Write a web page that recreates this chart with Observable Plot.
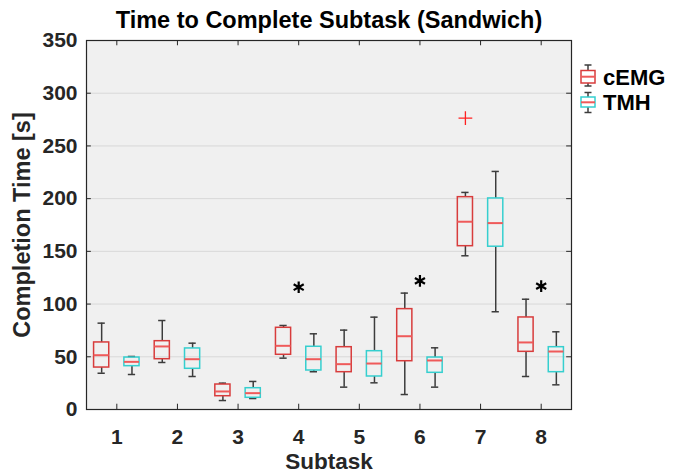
<!DOCTYPE html>
<html>
<head>
<meta charset="utf-8">
<script src="https://cdn.jsdelivr.net/npm/d3@7"></script>
<script src="https://cdn.jsdelivr.net/npm/@observablehq/plot@0.6"></script>
<style>
  body { margin: 0; background: #fff; }
  #wrap { position: relative; width: 681px; height: 474px; font-family: "Liberation Sans", Arial, sans-serif; }
  #title { position: absolute; left: 0; width: 658px; top: 7px; text-align: center; font-weight: bold; font-size: 23.5px; line-height: 26px; color: #000; }
  #legend { position: absolute; left: 576px; top: 60px; }
  #legend text { font-family: "Liberation Sans", Arial, sans-serif; font-weight: bold; font-size: 22px; fill: #000; }
</style>
</head>
<body>
<div id="wrap">
  <div id="title">Time to Complete Subtask (Sandwich)</div>
</div>
<script>
// ---- data ----
const subtasks = [1, 2, 3, 4, 5, 6, 7, 8];
const groups = ["cEMG", "TMH"];
const groupColors = ["#d83c3c", "#35cfcf"];

const cemgLow  = [34.4, 44.6,  8.5, 48.7, 21.2,  14.2, 145.8,  31.3];
const cemgQ1   = [39.8, 47.7, 12.6, 51.9, 35.4,  45.8, 154.9,  54.7];
const cemgMed  = [51.5, 59.8, 17.1, 60.4, 43.0,  69.5, 178.1,  63.6];
const cemgQ3   = [63.6, 64.8, 23.7, 77.5, 59.1,  95.2, 201.4,  87.3];
const cemgHigh = [81.9, 84.4, 25.0, 79.7, 75.3, 110.4, 205.9, 104.6];

const tmhLow  = [33.2, 31.3, 10.4, 35.8, 25.3, 21.2,  92.7, 23.4];
const tmhQ1   = [41.1, 38.6, 11.1, 37.0, 31.3, 34.8, 154.4, 35.4];
const tmhMed  = [45.2, 47.7, 15.5, 47.7, 43.6, 46.5, 176.8, 55.0];
const tmhQ3   = [49.3, 57.9, 20.2, 59.5, 55.3, 49.3, 200.2, 59.1];
const tmhHigh = [50.3, 62.9, 26.6, 71.8, 87.6, 58.5, 225.8, 73.7];

const outlierSubtask = [7];
const outlierGroup = ["cEMG"];
const outlierValue = [276.4];

const starSubtask = [4, 6, 8];
const starValue = [116, 122, 117];

const yTicks = [0, 50, 100, 150, 200, 250, 300, 350];
const gridValues = [50, 100, 150, 200, 250, 300];

// ---- build tables ----
const offset = {cEMG: -0.25, TMH: 0.25};
const boxHalf = 0.125, capHalf = 0.06;
const stats = {
  cEMG: [cemgLow, cemgQ1, cemgMed, cemgQ3, cemgHigh],
  TMH: [tmhLow, tmhQ1, tmhMed, tmhQ3, tmhHigh]
};
const rows = [];
for (const g of groups) {
  const [lo, q1, md, q3, hi] = stats[g];
  subtasks.forEach((s, i) => rows.push({
    subtask: s, group: g, pos: s + offset[g],
    low: lo[i], q1: q1[i], med: md[i], q3: q3[i], high: hi[i]
  }));
}
const outliers = outlierSubtask.map((s, i) => ({pos: s + offset[outlierGroup[i]], value: outlierValue[i], group: outlierGroup[i]}));
const stars = starSubtask.map((s, i) => ({subtask: s, value: starValue[i]}));

const axisColor = "#262626";
const whisker = "#3c3c3c";

const chart = Plot.plot({
  width: 681,
  height: 474,
  marginLeft: 86,
  marginRight: 110,
  marginTop: 40,
  marginBottom: 65,
  style: {fontFamily: '"Liberation Sans", Arial, sans-serif', fontWeight: "bold", fontSize: "21px", color: axisColor, background: "transparent"},
  x: {domain: [0.5, 8.5], axis: null},
  y: {domain: [0, 350], axis: null},
  color: {domain: groups, range: groupColors},
  marks: [
    Plot.frame({fill: "#f0f0f0", stroke: null}),
    Plot.ruleY(gridValues, {stroke: "#d8d8d8", strokeWidth: 1}),
    // whiskers
    Plot.ruleX(rows, {x: "pos", y1: "q3", y2: "high", stroke: whisker, strokeWidth: 1.5}),
    Plot.ruleX(rows, {x: "pos", y1: "low", y2: "q1", stroke: whisker, strokeWidth: 1.5}),
    Plot.ruleY(rows, {y: "high", x1: d => d.pos - capHalf, x2: d => d.pos + capHalf, stroke: whisker, strokeWidth: 1.5}),
    Plot.ruleY(rows, {y: "low", x1: d => d.pos - capHalf, x2: d => d.pos + capHalf, stroke: whisker, strokeWidth: 1.5}),
    // boxes
    Plot.rect(rows, {x1: d => d.pos - boxHalf, x2: d => d.pos + boxHalf, y1: "q1", y2: "q3", fill: "none", stroke: "group", strokeWidth: 1.5}),
    // medians
    Plot.ruleY(rows, {y: "med", x1: d => d.pos - boxHalf, x2: d => d.pos + boxHalf, stroke: "#ef5a5a", strokeWidth: 2}),
    // outliers
    Plot.dot(outliers, {x: "pos", y: "value", symbol: "plus", stroke: "#ff2020", r: 4.5, strokeWidth: 1.3}),
    // significance stars
    Plot.dot(stars, {x: "subtask", y: "value", symbol: "asterisk", stroke: "#000", r: 5.5, strokeWidth: 2.2}),
    // inward ticks
    Plot.ruleY(yTicks, {x1: 0.5, x2: 0.58, stroke: axisColor}),
    Plot.ruleY(yTicks, {x1: 8.42, x2: 8.5, stroke: axisColor}),
    Plot.ruleX(subtasks, {y1: 0, y2: 5, stroke: axisColor}),
    Plot.ruleX(subtasks, {y1: 345, y2: 350, stroke: axisColor}),
    Plot.frame({stroke: axisColor, strokeWidth: 1.2}),
    // axes
    Plot.axisY(yTicks, {tickSize: 0, tickPadding: 9, label: null, fontSize: 21, fontWeight: "bold", fill: axisColor}),
    Plot.axisX(subtasks, {tickSize: 0, tickPadding: 20, label: null, fontSize: 21, fontWeight: "bold", fill: axisColor}),
    Plot.text(["Completion Time [s]"], {frameAnchor: "left", textAnchor: "middle", lineAnchor: "middle", rotate: -90, dx: -64, fontSize: 23.5, fontWeight: "bold", fill: axisColor}),
    Plot.text(["Subtask"], {frameAnchor: "bottom", textAnchor: "middle", lineAnchor: "middle", dy: 52, fontSize: 22.5, fontWeight: "bold", fill: axisColor})
  ]
});
chart.style.position = "absolute";
chart.style.left = "0px";
chart.style.top = "0px";
document.getElementById("wrap").appendChild(chart);

// ---- legend ----
const ns = "http://www.w3.org/2000/svg";
const leg = document.createElementNS(ns, "svg");
leg.setAttribute("id", "legend");
leg.setAttribute("width", "105");
leg.setAttribute("height", "60");
const items = [
  {name: groups[0], color: groupColors[0], top: 5, boxTop: 10.5, boxBot: 23, med: 16.7, bot: 26},
  {name: groups[1], color: groupColors[1], top: 32.5, boxTop: 37, boxBot: 47, med: 42.3, bot: 52.5}
];
function el(tag, attrs) { const e = document.createElementNS(ns, tag); for (const k in attrs) e.setAttribute(k, attrs[k]); leg.appendChild(e); return e; }
for (const it of items) {
  const cx = 12;
  el("line", {x1: cx, x2: cx, y1: it.top, y2: it.boxTop, stroke: whisker, "stroke-width": 1.5});
  el("line", {x1: cx, x2: cx, y1: it.boxBot, y2: it.bot, stroke: whisker, "stroke-width": 1.5});
  el("line", {x1: cx - 3.5, x2: cx + 3.5, y1: it.top, y2: it.top, stroke: whisker, "stroke-width": 1.5});
  el("line", {x1: cx - 3.5, x2: cx + 3.5, y1: it.bot, y2: it.bot, stroke: whisker, "stroke-width": 1.5});
  el("rect", {x: cx - 7, y: it.boxTop, width: 14, height: it.boxBot - it.boxTop, fill: "none", stroke: it.color, "stroke-width": 1.5});
  el("line", {x1: cx - 7, x2: cx + 7, y1: it.med, y2: it.med, stroke: "#ef5a5a", "stroke-width": 2});
  const t = el("text", {x: 27, y: (it.boxTop + it.boxBot) / 2, dy: "0.36em"});
  t.textContent = it.name;
}
document.getElementById("wrap").appendChild(leg);
</script>
</body>
</html>
